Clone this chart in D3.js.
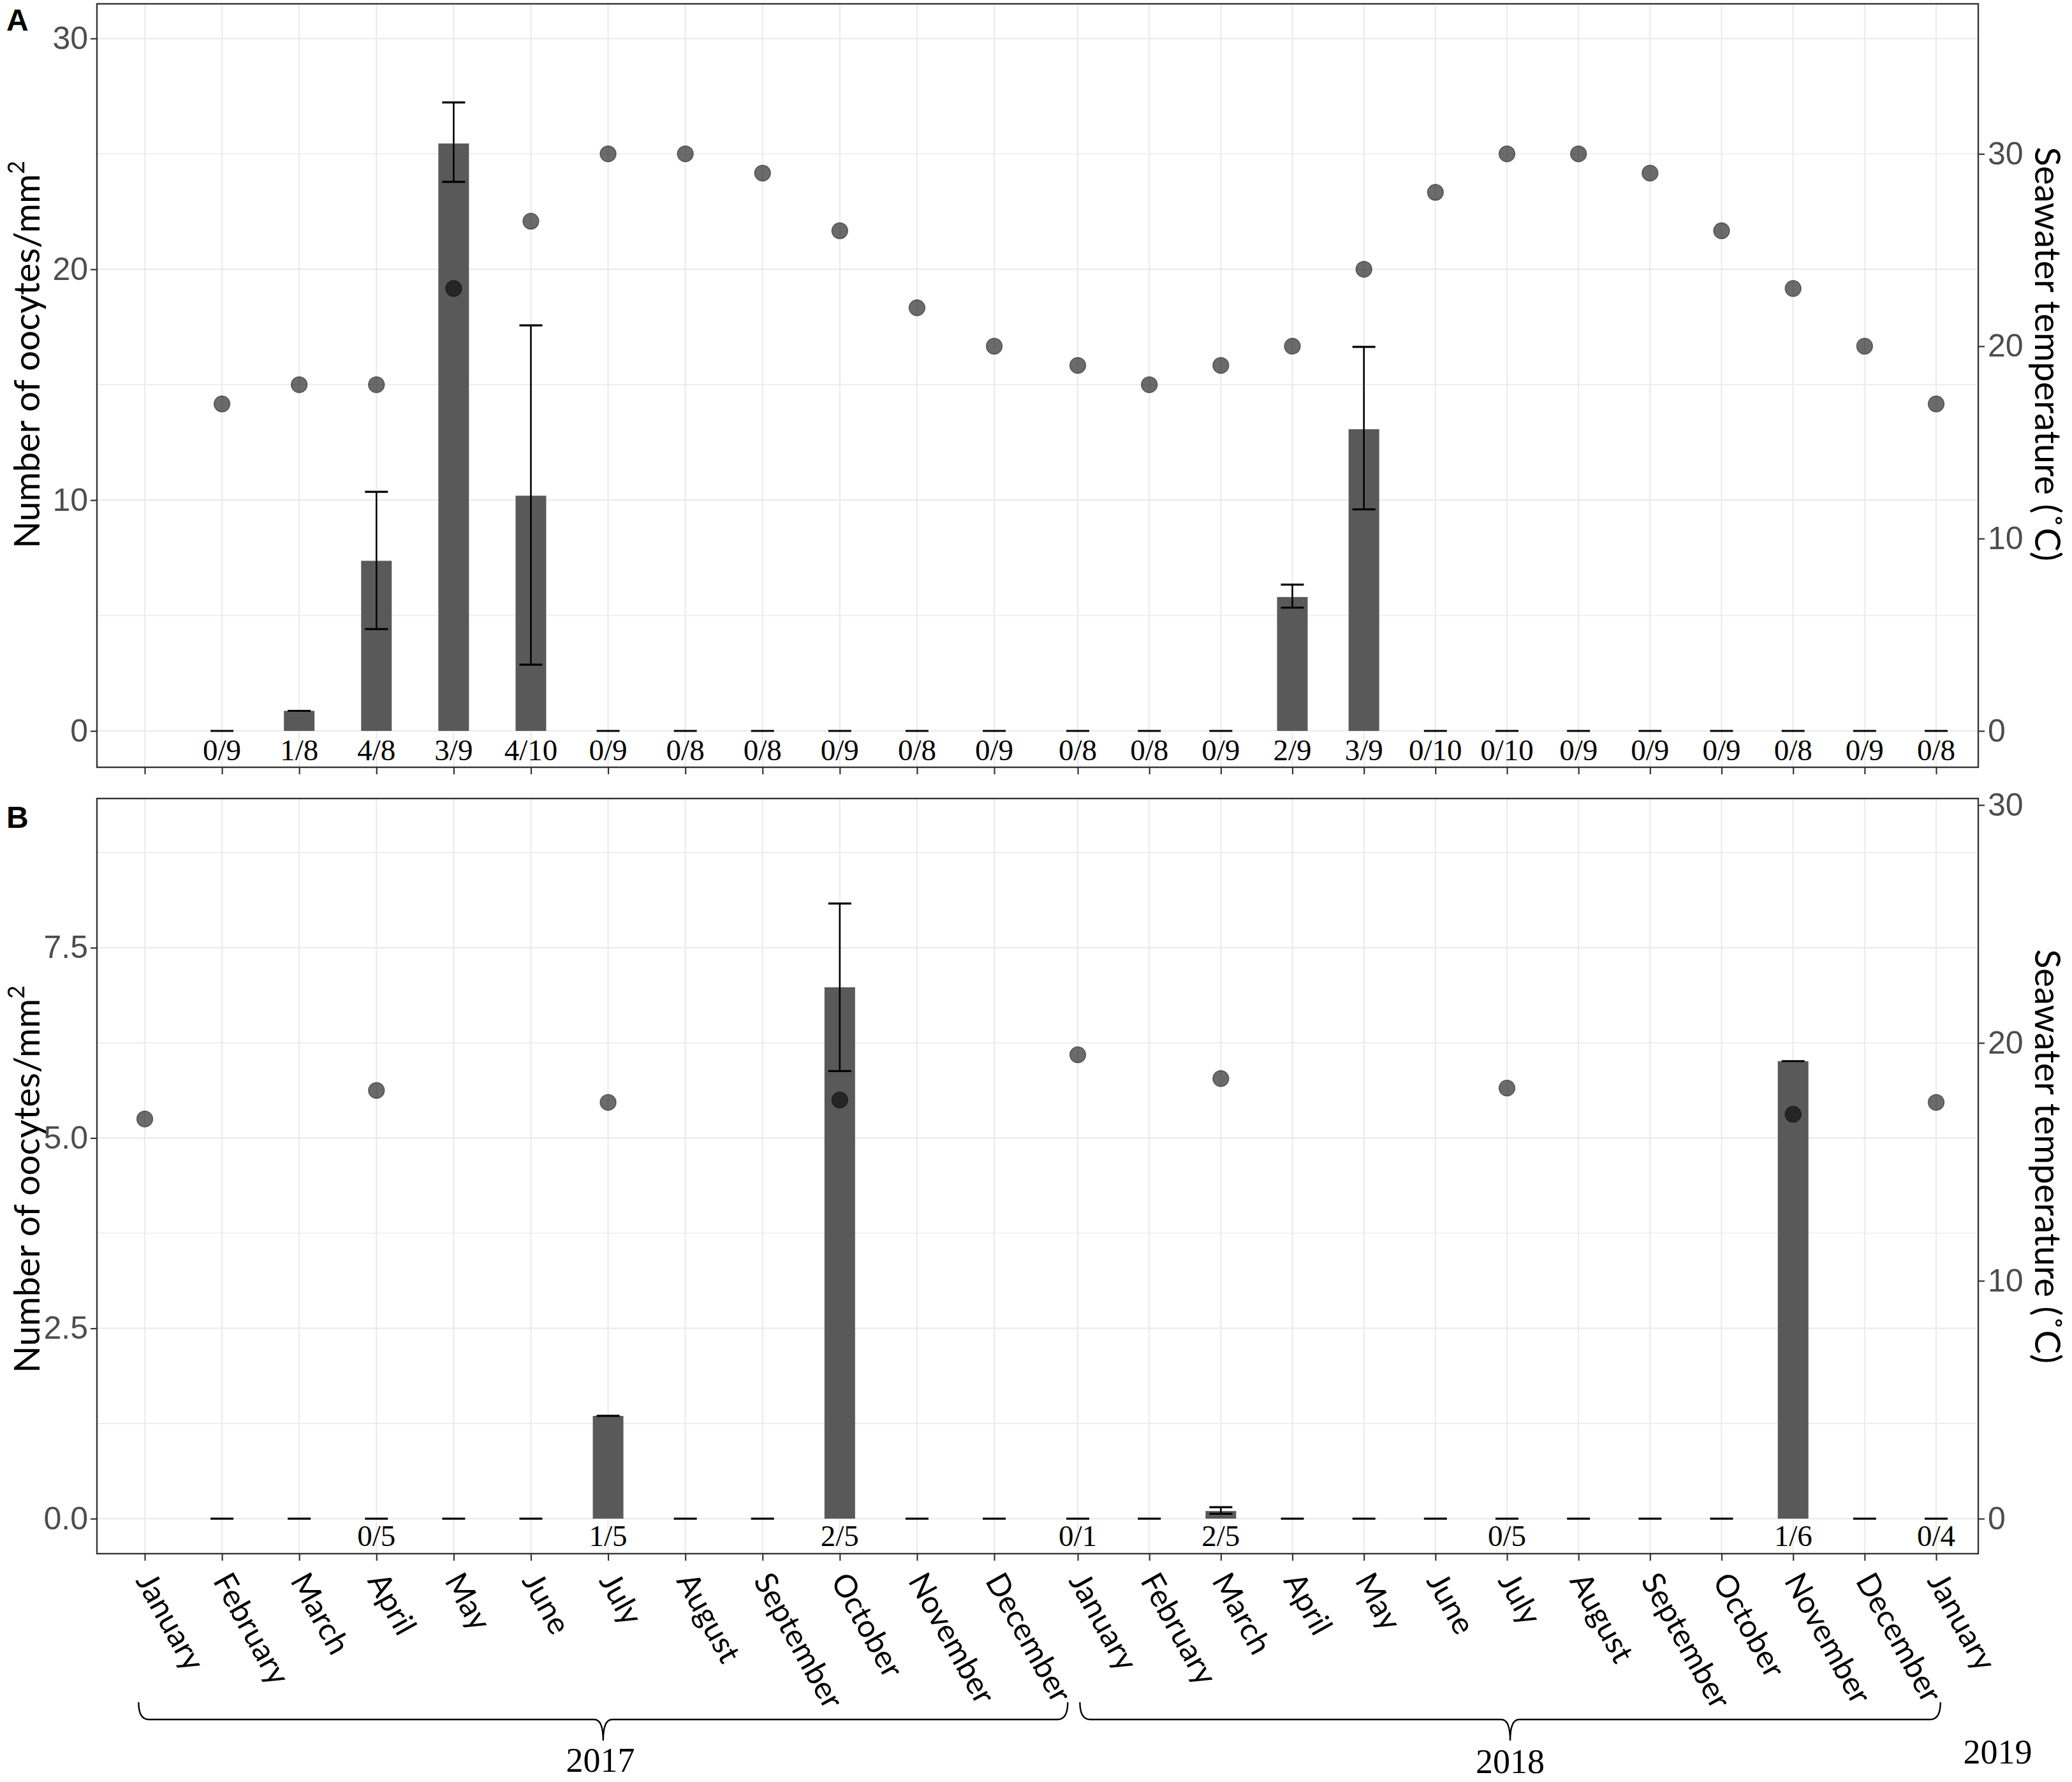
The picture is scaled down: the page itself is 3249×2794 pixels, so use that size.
<!DOCTYPE html>
<html>
<head>
<meta charset="utf-8">
<script src="https://cdn.jsdelivr.net/npm/d3@7"></script>
<style>
  body { margin: 0; background: #fff; }
  .tick text { font-family: "Liberation Sans", Arial, sans-serif; fill: #4d4d4d; }
</style>
</head>
<body>
<div id="chart"></div>
<script>
//DATA
// 25 monthly samples, Jan 2017 .. Jan 2019
const months = ["January", "February", "March", "April", "May", "June", "July", "August",
  "September", "October", "November", "December", "January", "February", "March", "April",
  "May", "June", "July", "August", "September", "October", "November", "December", "January"];

// Panel A: mean oocytes/mm2, error bar limits, temperature, positive/sampled
const countA = [null, 0, 0.87, 7.37, 25.45, 10.19, 0, 0, 0, 0, 0, 0,
  0, 0, 0, 5.8, 13.07, 0, 0, 0, 0, 0, 0, 0, 0];
const lowA = [null, 0, 0.87, 4.41, 23.79, 2.87, 0, 0, 0, 0, 0, 0,
  0, 0, 0, 5.34, 9.6, 0, 0, 0, 0, 0, 0, 0, 0];
const highA = [null, 0, 0.87, 10.36, 27.23, 17.57, 0, 0, 0, 0, 0, 0,
  0, 0, 0, 6.34, 16.64, 0, 0, 0, 0, 0, 0, 0, 0];
const tempA = [null, 17, 18, 18, 23, 26.5, 30, 30, 29, 26, 22, 20,
  19, 18, 19, 20, 24, 28, 30, 30, 29, 26, 23, 20, 17];
const ratioA = [null, "0/9", "1/8", "4/8", "3/9", "4/10", "0/9", "0/8", "0/8", "0/9", "0/8", "0/9",
  "0/8", "0/8", "0/9", "2/9", "3/9", "0/10", "0/10", "0/9", "0/9", "0/9", "0/8", "0/9", "0/8"];

// Panel B
const countB = [null, 0, 0, 0, 0, 0, 1.35, 0, 0, 6.98, 0, 0,
  0, 0, 0.1, 0, 0, 0, 0, 0, 0, 0, 6.01, 0, 0];
const lowB = [null, 0, 0, 0, 0, 0, 1.35, 0, 0, 5.88, 0, 0,
  0, 0, 0.064, 0, 0, 0, 0, 0, 0, 0, 6.01, 0, 0];
const highB = [null, 0, 0, 0, 0, 0, 1.35, 0, 0, 8.08, 0, 0,
  0, 0, 0.15, 0, 0, 0, 0, 0, 0, 0, 6.01, 0, 0];
const tempB = [16.8, null, null, 18.0, null, null, 17.5, null, null, 17.6, null, null,
  19.5, null, 18.5, null, null, null, 18.1, null, null, null, 17.0, null, 17.5];
const ratioB = [null, null, null, "0/5", null, null, "1/5", null, null, "2/5", null, null,
  "0/1", null, "2/5", null, null, null, "0/5", null, null, null, "1/6", null, "0/4"];

// tick labels
const ticksA = [0, 10, 20, 30];
const ticksB = [0, 2.5, 5, 7.5];
const tempTicks = [0, 10, 20, 30];

// year groups: label, first and last month index covered by the brace
const years = ["2017", "2018", "2019"];
const yearSpans = [[-0.08, 11.88], [12.03, 24.06]];

//DIMENSIONS
const WIDTH = 3249, HEIGHT = 2794;
const LEFT = 152, RIGHT = 3102;

const svg = d3.select("#chart").append("svg")
  .attr("width", WIDTH).attr("height", HEIGHT)
  .style("font-family", "Lato, sans-serif");
svg.append("rect").attr("width", WIDTH).attr("height", HEIGHT).attr("fill", "#fff");

// x scale: the figure is two pieces joined together, so the months of 2018 sit a bit closer
const idx = d3.range(months.length);
const xScale = d3.scaleLinear().domain([0, 11, 12, 24]).range([227, 1559, 1690, 3036]);

function drawPanel(p) {
  const g = svg.append("g");
  const y = d3.scaleLinear().domain(p.domain).range([p.bottom, p.top]);
  const yT = d3.scaleLinear().domain(p.domain.map((d) => d * p.tFactor)).range([p.bottom, p.top]);

  //grid
  g.selectAll(".minor").data(p.minor).enter().append("line")
    .attr("x1", LEFT).attr("x2", RIGHT)
    .attr("y1", (d) => y(d)).attr("y2", (d) => y(d))
    .attr("stroke", "#ebebeb").attr("stroke-width", 1.6);
  g.selectAll(".major").data(p.ticks).enter().append("line")
    .attr("x1", LEFT).attr("x2", RIGHT)
    .attr("y1", (d) => y(d)).attr("y2", (d) => y(d))
    .attr("stroke", "#ebebeb").attr("stroke-width", 2.2);
  g.selectAll(".vgrid").data(idx).enter().append("line")
    .attr("x1", (d) => xScale(d)).attr("x2", (d) => xScale(d))
    .attr("y1", p.top).attr("y2", p.bottom)
    .attr("stroke", "#ebebeb").attr("stroke-width", 2.2);

  const withData = idx.filter((i) => p.count[i] !== null);

  //bars
  g.selectAll(".bar").data(withData.filter((i) => p.count[i] > 0)).enter().append("rect")
    .attr("x", (i) => xScale(i) - 24)
    .attr("width", 48)
    .attr("y", (i) => y(p.count[i]))
    .attr("height", (i) => y(0) - y(p.count[i]))
    .attr("fill", "#595959");

  //error bars
  g.selectAll(".err").data(withData.filter((i) => p.high[i] > p.low[i])).enter().append("line")
    .attr("x1", (i) => xScale(i)).attr("x2", (i) => xScale(i))
    .attr("y1", (i) => y(p.low[i])).attr("y2", (i) => y(p.high[i]))
    .attr("stroke", "#000").attr("stroke-width", 2.6);
  const caps = [];
  withData.forEach((i) => {
    caps.push({ i: i, v: p.high[i] });
    if (p.high[i] > p.low[i]) caps.push({ i: i, v: p.low[i] });
  });
  g.selectAll(".cap").data(caps).enter().append("line")
    .attr("x1", (d) => xScale(d.i) - 18).attr("x2", (d) => xScale(d.i) + 18)
    .attr("y1", (d) => y(d.v)).attr("y2", (d) => y(d.v))
    .attr("stroke", "#000").attr("stroke-width", 3.2);

  //temperature points
  g.selectAll(".pt").data(idx.filter((i) => p.temp[i] !== null)).enter().append("circle")
    .attr("cx", (i) => xScale(i))
    .attr("cy", (i) => yT(p.temp[i]))
    .attr("r", 12.5)
    .attr("fill", "#000").attr("fill-opacity", 0.58)
    .attr("stroke", "#000").attr("stroke-opacity", 0.45).attr("stroke-width", 1.5);

  //positive / sampled labels
  g.selectAll(".ratio").data(idx.filter((i) => p.ratio[i] !== null)).enter().append("text")
    .attr("x", (i) => xScale(i))
    .attr("y", y(0) + p.ratioOffset)
    .attr("text-anchor", "middle")
    .style("font-family", "'Liberation Serif', 'Times New Roman', serif")
    .style("font-size", "47px")
    .text((i) => p.ratio[i]);

  //border
  g.append("rect")
    .attr("x", LEFT).attr("y", p.top)
    .attr("width", RIGHT - LEFT).attr("height", p.bottom - p.top)
    .attr("fill", "none").attr("stroke", "#333").attr("stroke-width", 2.4);

  //axes
  const left = g.append("g").attr("transform", `translate(${LEFT},0)`)
    .call(d3.axisLeft(y).tickValues(p.ticks).tickSize(10).tickPadding(4).tickFormat(p.fmt));
  const right = g.append("g").attr("transform", `translate(${RIGHT},0)`)
    .call(d3.axisRight(yT).tickValues(tempTicks).tickSize(10).tickPadding(5).tickFormat(d3.format("d")));
  const bottom = g.append("g").attr("transform", `translate(0,${p.bottom})`)
    .call(d3.axisBottom(xScale).tickValues(idx).tickSize(11).tickFormat(""));
  [left, right, bottom].forEach((a) => {
    a.select(".domain").remove();
    a.selectAll(".tick line").attr("stroke", "#333").attr("stroke-width", 2.2);
    a.selectAll(".tick text").style("font-size", "50px");
  });

  //axis titles
  const yTitle = g.append("text")
    .attr("transform", `translate(40,${p.titleY}) rotate(-90)`)
    .attr("text-anchor", "middle").attr("dominant-baseline", "central")
    .style("font-size", "56px").style("font-family", "Lato, sans-serif");
  yTitle.append("tspan").text("Number of oocytes/mm");
  yTitle.append("tspan").attr("dy", "-0.45em").style("font-size", "36px").text("2");

  g.append("text")
    .attr("transform", `translate(3212,${p.tTitleY}) rotate(90)`)
    .attr("text-anchor", "middle").attr("dominant-baseline", "central")
    .style("font-size", "56px").style("font-family", "Lato, sans-serif")
    .text("Seawater temperature (\u02DAC)");

  //panel letter
  g.append("text")
    .attr("x", p.letterX).attr("y", p.letterY)
    .style("font-family", "'Liberation Sans', Arial, sans-serif")
    .style("font-weight", "bold").style("font-size", "48px")
    .text(p.letter);

  return { y: y, bottom: p.bottom };
}

drawPanel({
  letter: "A", letterX: 10, letterY: 48,
  top: 6, bottom: 1203, domain: [-1.575, 31.5], tFactor: 1.2,
  ticks: ticksA, minor: [5, 15, 25], fmt: d3.format("d"),
  count: countA, low: lowA, high: highA, temp: tempA, ratio: ratioA,
  ratioOffset: 46, titleY: 556, tTitleY: 555
});

const pB = drawPanel({
  letter: "B", letterX: 10, letterY: 1298,
  top: 1252, bottom: 2436, domain: [-0.46, 9.46], tFactor: 3.2,
  ticks: ticksB, minor: [1.25, 3.75, 6.25, 8.75], fmt: d3.format(".1f"),
  count: countB, low: lowB, high: highB, temp: tempB, ratio: ratioB,
  ratioOffset: 43, titleY: 1849, tTitleY: 1813
});

//month labels under panel B
svg.append("g").selectAll("text").data(idx).enter().append("text")
  .attr("transform", (i) => `translate(${xScale(i)},${pB.bottom + 34}) rotate(61)`)
  .attr("dy", "0.35em")
  .attr("text-anchor", "start")
  .style("font-family", "Lato, sans-serif")
  .style("font-size", "49px")
  .text((i) => months[i]);

//year braces
const braceTop = 2669, braceMid = 2696, braceTip = 2729;
function bracePath(a, b) {
  const x0 = xScale(a), x1 = xScale(b), xm = (x0 + x1) / 2;
  return `M${x0},${braceTop} Q${x0},${braceMid} ${x0 + 16},${braceMid}` +
    ` L${xm - 14},${braceMid} Q${xm},${braceMid} ${xm},${braceTip}` +
    ` Q${xm},${braceMid} ${xm + 14},${braceMid}` +
    ` L${x1 - 16},${braceMid} Q${x1},${braceMid} ${x1},${braceTop}`;
}
svg.append("g").selectAll("path").data(yearSpans).enter().append("path")
  .attr("d", (d) => bracePath(d[0], d[1]))
  .attr("fill", "none").attr("stroke", "#000").attr("stroke-width", 2.4);

const yearX = [
  xScale((yearSpans[0][0] + yearSpans[0][1]) / 2),
  xScale((yearSpans[1][0] + yearSpans[1][1]) / 2),
  xScale(24.86)
];
const yearY = [2778, 2780, 2765];
svg.append("g").selectAll("text").data(years).enter().append("text")
  .attr("x", (d, i) => yearX[i]).attr("y", (d, i) => yearY[i])
  .attr("text-anchor", "middle")
  .style("font-family", "'Liberation Serif', 'Times New Roman', serif")
  .style("font-size", "54px")
  .text((d) => d);
</script>
</body>
</html>
